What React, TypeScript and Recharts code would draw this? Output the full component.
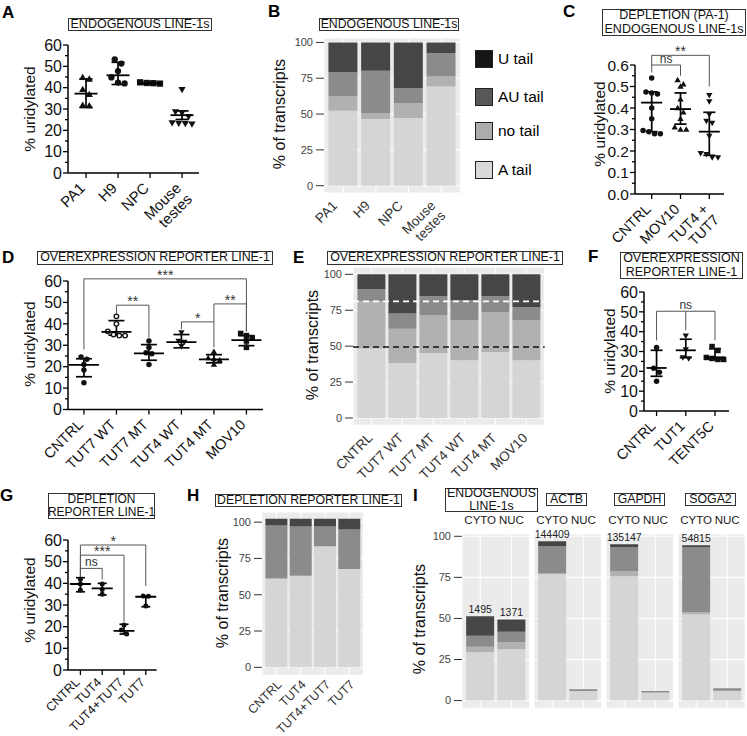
import React from 'react';
import {
  ScatterChart, Scatter, XAxis, YAxis, ErrorBar, ReferenceLine,
  BarChart, Bar, CartesianGrid, LabelList,
} from 'recharts';

const FONT = '"Liberation Sans", Arial, Helvetica, sans-serif';

// ================= DATA =================
// Panel A – endogenous LINE-1s, % uridylated
const aCategories = ['PA1', 'H9', 'NPC', 'Mouse\ntestes'];
const aPA1 = [44.8, 44.0, 39.1, 36.8, 31.8, 31.5];
const aH9 = [53.3, 51.3, 47.8, 44.8, 42.4, 42.0];
const aNPC = [42.5, 42.2, 41.9, 42.1];
const aTestes = [39.1, 28.7, 28.2, 26.5, 23.6, 23.3, 23.2, 23.0];
const aMean = [37.2, 45.8, 42.0, 27.1];
const aLow = [30.7, 41.5, 41.6, 25.1];
const aHigh = [44.1, 51.9, 42.5, 29.1];

// Panel B – endogenous LINE-1s, % of transcripts
const bCategories = ['PA1', 'H9', 'NPC', 'Mouse\ntestes'];
const bATail = [52.3, 46.5, 47.2, 69.3];
const bNoTail = [10.0, 4.2, 10.5, 7.0];
const bAUTail = [17.0, 29.5, 10.5, 16.3];
const bUTail = [20.7, 19.8, 31.8, 7.4];

// Panel C – depletion (PA-1)
const cCategories = ['CNTRL', 'MOV10', 'TUT4 +\nTUT7'];
const cCNTRL = [0.54, 0.475, 0.47, 0.465, 0.40, 0.35, 0.295, 0.29, 0.28, 0.28];
const cMOV10 = [0.53, 0.51, 0.50, 0.44, 0.40, 0.38, 0.35, 0.31, 0.30, 0.30];
const cTUT47 = [0.46, 0.43, 0.37, 0.34, 0.33, 0.27, 0.19, 0.185, 0.17, 0.17];
const cMean = [0.425, 0.395, 0.29];
const cLow = [0.29, 0.325, 0.18];
const cHigh = [0.475, 0.47, 0.38];

// Panel D – overexpression reporter
const dCategories = ['CNTRL', 'TUT7 WT', 'TUT7 MT', 'TUT4 WT', 'TUT4 MT', 'MOV10'];
const dCNTRL = [24.5, 23.5, 21.0, 18.5, 12.5];
const dTUT7WT = [43.5, 40.0, 36.5, 35.0, 34.5, 34.5];
const dTUT7MT = [32.0, 29.0, 26.5, 26.0, 21.0];
const dTUT4WT = [36.0, 32.0, 31.5, 29.5];
const dTUT4MT = [27.0, 24.0, 23.5, 23.0, 21.0];
const dMOV10 = [35.5, 34.5, 33.5, 32.0, 29.0];
const dMean = [20.8, 36.2, 26.2, 31.5, 23.4, 32.4];
const dLow = [15.3, 34.7, 23.0, 28.8, 21.8, 29.8];
const dHigh = [23.7, 41.5, 30.3, 35.0, 25.6, 34.5];

// Panel E – overexpression reporter, % of transcripts
const eCategories = ['CNTRL', 'TUT7 WT', 'TUT7 MT', 'TUT4 WT', 'TUT4 MT', 'MOV10'];
const eATail = [48.3, 38.3, 45.2, 40.2, 45.9, 40.2];
const eNoTail = [32.9, 23.9, 26.3, 27.8, 27.9, 27.8];
const eAUTail = [8.4, 10.5, 13.2, 13.9, 10.9, 9.2];
const eUTail = [10.4, 27.3, 15.3, 18.1, 15.3, 22.8];
const eRefLines = [81.2, 49.4];

// Panel F – overexpression reporter
const fCategories = ['CNTRL', 'TUT1', 'TENT5C'];
const fCNTRL = [32.0, 21.5, 19.5, 15.0];
const fTUT1 = [38.0, 31.0, 27.0, 26.5];
const fTENT5C = [32.5, 30.5, 27.0, 26.5, 26.0, 26.0];
const fMean = [21.7, 30.6, 27.0];
const fLow = [17.5, 26.9, 26.0];
const fHigh = [30.6, 36.2, 31.4];

// Panel G – depletion reporter
const gCategories = ['CNTRL', 'TUT4', 'TUT4+TUT7', 'TUT7'];
const gCNTRL = [41.9, 39.7, 36.9];
const gTUT4 = [39.7, 37.2, 35.0];
const gTUT47 = [20.8, 18.5, 16.6];
const gTUT7 = [34.2, 34.0, 29.5];
const gMean = [39.7, 37.7, 18.1, 33.8];
const gLow = [36.1, 34.6, 16.6, 29.2];
const gHigh = [42.6, 40.0, 21.1, 34.2];

// Panel H – depletion reporter, % of transcripts
const hCategories = ['CNTRL', 'TUT4', 'TUT4+TUT7', 'TUT7'];
const hATail = [61.2, 63.0, 83.4, 67.7];
const hNoTail = [0, 0, 0, 0];
const hAUTail = [36.5, 34.0, 13.6, 27.3];
const hUTail = [4.7, 5.4, 5.4, 7.4];

// Panel I – fractions
const iFacets = ['ENDOGENOUS\nLINE-1s', 'ACTB', 'GAPDH', 'SOGA2'];
const iFractions = ['CYTO', 'NUC'];
const iATail = [[29.4, 31.2], [76.9, 5.9], [75.7, 4.9], [52.6, 5.9]];
const iNoTail = [[3.4, 4.3], [0.8, 0], [3.1, 0], [1.1, 0]];
const iAUTail = [[6.7, 6.4], [16.2, 1.0], [14.7, 1.0], [39.8, 1.6]];
const iUTail = [[11.9, 7.5], [3.1, 0], [1.6, 0], [1.0, 0]];
const iCounts = [[1495, 1371], [144409, 6742], [135147, 6660], [54815, 4070]];

// tick labels
const pctTicks = [0, 5, 10, 15, 20, 25, 30, 35, 40, 45, 50, 55, 60];
const fracTicks = [0, 0.05, 0.1, 0.15, 0.2, 0.25, 0.3, 0.35, 0.4, 0.45, 0.5, 0.55, 0.6];
const barTicks = [0, 25, 50, 75, 100];
const tailLabels = ['U tail', 'AU tail', 'no tail', 'A tail'];

// significance brackets
type Bracket = { from: number; to: number; y: number; leftEnd: number; rightEnd: number; label: string; mid?: number; midEnd?: number };
const cBrackets: Bracket[] = [
  { from: 0, to: 1, y: 0.6, leftEnd: 0.565, rightEnd: 0.55, label: 'ns' },
  { from: 0, to: 2, y: 0.645, leftEnd: 0.6, rightEnd: 0.5, label: '**' },
];
const dBrackets: Bracket[] = [
  { from: 0, to: 5, y: 61, leftEnd: 28, rightEnd: 36.5, label: '***' },
  { from: 1, to: 2, y: 48.7, leftEnd: 44.5, rightEnd: 33.5, label: '**' },
  { from: 3, to: 4, y: 40.9, leftEnd: 37.5, rightEnd: 40.9, label: '*' },
  { from: 4, to: 5, y: 49.3, leftEnd: 29, rightEnd: 36.5, label: '**' },
];
const fBrackets: Bracket[] = [
  { from: 0, to: 2, y: 50.3, leftEnd: 35.6, rightEnd: 35.6, mid: 1, midEnd: 40.7, label: 'ns' },
];
const gBrackets: Bracket[] = [
  { from: 0, to: 3, y: 57.7, leftEnd: 43, rightEnd: 38.8, label: '*' },
  { from: 0, to: 2, y: 53, leftEnd: 43, rightEnd: 22.3, label: '***' },
  { from: 0, to: 1, y: 46.9, leftEnd: 43, rightEnd: 41.8, label: 'ns' },
];

// ================= STYLE =================
const BAR_COLORS = { A: '#d5d5d5', no: '#b1b1b1', AU: '#8b8b8b', U: '#464646' };
const LEGEND_COLORS = ['#161616', '#575757', '#acacac', '#d9d9d9'];

// ================= HELPERS =================
// Prism-like scatter: values that would overlap vertically share a row and are spread symmetrically
function swarm(values: number[], yPx: number, xPx: number, size: number): number[] {
  const d = size * 0.95;
  const step = size * 1.05;
  const order = values.map((_, i) => i).sort((a, b) => values[b] - values[a]);
  const out = new Array(values.length).fill(0);
  let row: number[] = [];
  const flush = () => {
    row.forEach((idx, j) => { out[idx] = ((j - (row.length - 1) / 2) * step) / xPx; });
    row = [];
  };
  for (const i of order) {
    if (row.length && Math.abs(values[row[0]] - values[i]) * yPx >= d) flush();
    row.push(i);
  }
  flush();
  return out;
}

function makeMarker(kind: string, size: number) {
  return (p: any) => {
    const { cx, cy } = p;
    if (cx == null || cy == null || isNaN(cx) || isNaN(cy)) return <g />;
    const r = size / 2;
    if (kind === 'open') return <circle cx={cx} cy={cy} r={r - 0.5} fill="#fff" stroke="#111" strokeWidth={1.4} />;
    if (kind === 'square') return <rect x={cx - r} y={cy - r} width={size} height={size} fill="#111" />;
    if (kind === 'tri') {
      return <polygon points={`${cx},${cy - r * 1.2} ${cx - r * 1.15},${cy + r * 0.8} ${cx + r * 1.15},${cy + r * 0.8}`} fill="#111" />;
    }
    if (kind === 'triDown') {
      return <polygon points={`${cx},${cy + r * 1.2} ${cx - r * 1.15},${cy - r * 0.8} ${cx + r * 1.15},${cy - r * 0.8}`} fill="#111" />;
    }
    return <circle cx={cx} cy={cy} r={r} fill="#111" />;
  };
}

function makeMeanLine(w: number) {
  return (p: any) => {
    const { cx, cy } = p;
    if (cx == null || cy == null) return <g />;
    return <line x1={cx - w / 2} x2={cx + w / 2} y1={cy} y2={cy} stroke="#000" strokeWidth={1.8} />;
  };
}

function PrismXTick(props: any) {
  const { x, y, payload, labels, fs, dx, dy } = props;
  const idx = Math.round(Number(payload.value));
  const lines = String(labels[idx] ?? '').split('\n');
  const ax = x + dx;
  const ay = y + dy;
  return (
    <g>
      <line x1={x} x2={x} y1={y} y2={y + 5} stroke="#000" strokeWidth={1.3} />
      <text x={ax} y={ay} transform={`rotate(-45 ${ax} ${ay})`} textAnchor="end" fontSize={fs} fontFamily={FONT} fill="#111">
        {lines.map((l: string, i: number) => (
          <tspan key={i} x={ax} dy={i === 0 ? 0 : fs * 1.05}>{l}</tspan>
        ))}
      </text>
    </g>
  );
}

function PrismYTick(props: any) {
  const { x, y, payload, major, fmt, fs } = props;
  const v = Number(payload.value);
  const isMaj = major(v);
  return (
    <g>
      <line x1={x - (isMaj ? 5 : 3)} x2={x} y1={y} y2={y} stroke="#000" strokeWidth={1.3} />
      {isMaj && (
        <text x={x - 6} y={y} dy="0.36em" textAnchor="end" fontSize={fs} fontFamily={FONT} fill="#111">{fmt(v)}</text>
      )}
    </g>
  );
}

function RotTick(props: any) {
  const { x, y, payload, fs, dx, dy } = props;
  const lines = String(payload.value).split('\n');
  const ax = x + dx;
  const ay = y + dy;
  return (
    <text x={ax} y={ay} transform={`rotate(-45 ${ax} ${ay})`} textAnchor="end" fontSize={fs} fontFamily={FONT} fill="#333">
      {lines.map((l: string, i: number) => (
        <tspan key={i} x={ax} dy={i === 0 ? 0 : fs * 1.05}>{l}</tspan>
      ))}
    </text>
  );
}

type Plot = { x0: number; x1: number; y0: number; y1: number };
type DotCfg = {
  plot: Plot;
  xDomain: [number, number];
  yDomain: [number, number];
  yTicks: number[];
  major: (v: number) => boolean;
  fmt: (v: number) => string;
  categories: string[];
  series: number[][];
  means: number[];
  lows: number[];
  highs: number[];
  markers: string[];
  brackets: Bracket[];
  mt: number; mb: number; meanW: number; capHalf: number; size: number;
  fs: number; xfs: number; lblDx: number; lblDy: number;
};

function DotPlot({ cfg }: { cfg: DotCfg }) {
  const { plot, xDomain, yDomain } = cfg;
  const ly = 40;
  const mr = 8;
  const W = plot.x1 - plot.x0 + ly + mr;
  const H = plot.y1 - plot.y0 + cfg.mt + cfg.mb;
  const yPx = (plot.y1 - plot.y0) / (yDomain[1] - yDomain[0]);
  const xPx = (plot.x1 - plot.x0) / (xDomain[1] - xDomain[0]);
  const summary = cfg.means.map((m, i) => ({ x: i, y: m, err: [m - cfg.lows[i], cfg.highs[i] - m] }));
  const bStroke = '#555';
  const bracketEls: React.ReactNode[] = [];
  cfg.brackets.forEach((b, bi) => {
    const isStar = b.label.indexOf('*') >= 0;
    bracketEls.push(
      <ReferenceLine key={`h${bi}`} segment={[{ x: b.from, y: b.y }, { x: b.to, y: b.y }]} stroke={bStroke} strokeWidth={1} ifOverflow="visible"
        label={{ value: b.label, position: 'top', fill: '#333', fontSize: isStar ? 14 : 12, offset: isStar ? -1 : 2, fontFamily: FONT }} />,
    );
    bracketEls.push(
      <ReferenceLine key={`l${bi}`} segment={[{ x: b.from, y: b.y }, { x: b.from, y: b.leftEnd }]} stroke={bStroke} strokeWidth={1} ifOverflow="visible" />,
    );
    bracketEls.push(
      <ReferenceLine key={`r${bi}`} segment={[{ x: b.to, y: b.y }, { x: b.to, y: b.rightEnd }]} stroke={bStroke} strokeWidth={1} ifOverflow="visible" />,
    );
    if (b.mid != null && b.midEnd != null) {
      bracketEls.push(
        <ReferenceLine key={`m${bi}`} segment={[{ x: b.mid, y: b.y }, { x: b.mid, y: b.midEnd }]} stroke={bStroke} strokeWidth={1} ifOverflow="visible" />,
      );
    }
  });
  return (
    <div style={{ position: 'absolute', left: plot.x0 - ly, top: plot.y0 - cfg.mt }}>
      <ScatterChart width={W} height={H} margin={{ top: cfg.mt, right: mr, bottom: 0, left: 0 }}>
        <XAxis
          type="number" dataKey="x" domain={xDomain} allowDataOverflow
          ticks={cfg.categories.map((_, i) => i)} interval={0} height={cfg.mb}
          tickLine={false} tickSize={0} tickMargin={0}
          axisLine={{ stroke: '#000', strokeWidth: 1.5 }}
          tick={(p: any) => <PrismXTick {...p} labels={cfg.categories} fs={cfg.xfs} dx={cfg.lblDx} dy={cfg.lblDy} />}
        />
        <YAxis
          type="number" dataKey="y" domain={yDomain} allowDataOverflow
          ticks={cfg.yTicks} interval={0} width={ly}
          tickLine={false} tickSize={0} tickMargin={0}
          axisLine={{ stroke: '#000', strokeWidth: 1.5 }}
          tick={(p: any) => <PrismYTick {...p} major={cfg.major} fmt={cfg.fmt} fs={cfg.fs} />}
        />
        {bracketEls}
        {cfg.series.map((vals, gi) => {
          const offs = swarm(vals, yPx, xPx, cfg.size);
          const pts = vals.map((v, k) => ({ x: gi + offs[k], y: v }));
          return <Scatter key={gi} data={pts} shape={makeMarker(cfg.markers[gi], cfg.size)} isAnimationActive={false} />;
        })}
        <Scatter data={summary} shape={makeMeanLine(cfg.meanW)} isAnimationActive={false}>
          <ErrorBar dataKey="err" direction="y" width={cfg.capHalf} stroke="#000" strokeWidth={1.7} />
        </Scatter>
      </ScatterChart>
    </div>
  );
}

type BarRow = { cat: string; A: number; no: number; AU: number; U: number; n?: number };

function BarPanel(props: {
  data: BarRow[]; plot: Plot; domain: [number, number]; pad: number;
  showY?: boolean; top?: boolean; mb?: number; mt?: number;
  xfs?: number; lblDx?: number; lblDy?: number; counts?: boolean; children?: React.ReactNode;
}) {
  const { data, plot, domain, pad, showY = true, top = false, mb = 60, mt = 20, xfs = 13.5, lblDx = 0, lblDy = 13.5, counts = false } = props;
  const ly = 40;
  const pt = top ? 0 : 8; // room above the panel for the top tick label
  const W = plot.x1 - plot.x0 + (showY ? ly : 0);
  const H = plot.y1 - plot.y0 + (top ? mt : mb) + pt;
  return (
    <div style={{ position: 'absolute', left: plot.x0 - (showY ? ly : 0), top: plot.y0 - (top ? mt : 0) - pt }}>
      <BarChart width={W} height={H} data={data} margin={{ top: pt, right: 0, bottom: 0, left: 0 }} barCategoryGap="5%">
        <CartesianGrid fill="#ebebeb" stroke="#ffffff" strokeWidth={1.1} />
        <XAxis
          dataKey="cat" type="category" orientation={top ? 'top' : 'bottom'} height={top ? mt : mb}
          padding={{ left: pad, right: pad }} axisLine={false} tickLine={false} tickSize={0}
          tickMargin={top ? 10 : 0} interval={0}
          tick={top ? { fontSize: 11.5, fill: '#1a1a1a', fontFamily: FONT } : (p: any) => <RotTick {...p} fs={xfs} dx={lblDx} dy={lblDy} />}
        />
        <YAxis
          type="number" domain={domain} allowDataOverflow ticks={barTicks} interval={0} hide={!showY} width={ly}
          axisLine={false} tickLine={{ stroke: '#333' }} tickSize={8} tickMargin={3}
          tick={{ fontSize: 11, fill: '#444', fontFamily: FONT }}
        />
        <Bar dataKey="A" stackId="s" fill={BAR_COLORS.A} isAnimationActive={false} />
        <Bar dataKey="no" stackId="s" fill={BAR_COLORS.no} isAnimationActive={false} />
        <Bar dataKey="AU" stackId="s" fill={BAR_COLORS.AU} isAnimationActive={false} />
        <Bar dataKey="U" stackId="s" fill={BAR_COLORS.U} isAnimationActive={false}>
          {counts && <LabelList dataKey="n" position="top" offset={3} fontSize={10.5} fill="#222" fontFamily={FONT} />}
        </Bar>
        {props.children}
      </BarChart>
    </div>
  );
}

function Txt({ x, y, size, text, bold = false, anchor = 'start' }: { x: number; y: number; size: number; text: string; bold?: boolean; anchor?: string }) {
  const tx = anchor === 'middle' ? '-50%' : anchor === 'end' ? '-100%' : '0';
  return (
    <div style={{ position: 'absolute', left: x, top: y - 0.85 * size, fontSize: size, lineHeight: 1, fontWeight: bold ? 700 : 400, whiteSpace: 'nowrap', transform: `translateX(${tx})`, color: '#000', fontFamily: FONT }}>{text}</div>
  );
}

function VLabel({ cx, cy, size, text }: { cx: number; cy: number; size: number; text: string }) {
  return (
    <div style={{ position: 'absolute', left: cx, top: cy, width: 0, height: 0 }}>
      <div style={{ position: 'absolute', left: 0, top: 0, transform: 'translate(-50%,-50%) rotate(-90deg)', fontSize: size, lineHeight: 1, whiteSpace: 'nowrap', fontFamily: FONT, color: '#111' }}>{text}</div>
    </div>
  );
}

function TitleBox({ x, y, w, h, text, size }: { x: number; y: number; w: number; h: number; text: string; size: number }) {
  return (
    <div style={{ position: 'absolute', left: x, top: y, width: w, height: h, border: '1px solid #333', boxSizing: 'border-box', background: '#fff', display: 'flex', flexDirection: 'column', alignItems: 'center', justifyContent: 'center', fontSize: size, lineHeight: 1.08, fontFamily: FONT, color: '#111', whiteSpace: 'nowrap' }}>
      {text.split('\n').map((l, i) => <div key={i}>{l}</div>)}
    </div>
  );
}

const isPctMajor = (v: number) => Math.round(v) % 10 === 0;
const pctFmt = (v: number) => String(Math.round(v));
const isFracMajor = (v: number) => Math.round(v * 100) % 10 === 0;
const fracFmt = (v: number) => v.toFixed(1);

export default function App() {
  const cfgA: DotCfg = {
    plot: { x0: 68, x1: 199, y0: 45, y1: 173 }, xDomain: [-0.5625, 3.53], yDomain: [0, 60],
    yTicks: pctTicks, major: isPctMajor, fmt: pctFmt, categories: aCategories,
    series: [aPA1, aH9, aNPC, aTestes], means: aMean, lows: aLow, highs: aHigh,
    markers: ['tri', 'circle', 'square', 'triDown'], brackets: [],
    mt: 10, mb: 62, meanW: 23, capHalf: 6.5, size: 6.3, fs: 16, xfs: 15, lblDx: 0, lblDy: 16,
  };
  const cfgC: DotCfg = {
    plot: { x0: 635, x1: 724, y0: 64.5, y1: 193.5 }, xDomain: [-0.58, 2.51], yDomain: [0, 0.6],
    yTicks: fracTicks, major: isFracMajor, fmt: fracFmt, categories: cCategories,
    series: [cCNTRL, cMOV10, cTUT47], means: cMean, lows: cLow, highs: cHigh,
    markers: ['circle', 'tri', 'triDown'], brackets: cBrackets,
    mt: 26, mb: 60, meanW: 21, capHalf: 6, size: 5.5, fs: 15.5, xfs: 14.5, lblDx: 0, lblDy: 16,
  };
  const cfgD: DotCfg = {
    plot: { x0: 68, x1: 263, y0: 280.5, y1: 409 }, xDomain: [-0.49, 5.51], yDomain: [0, 60],
    yTicks: pctTicks, major: isPctMajor, fmt: pctFmt, categories: dCategories,
    series: [dCNTRL, dTUT7WT, dTUT7MT, dTUT4WT, dTUT4MT, dMOV10], means: dMean, lows: dLow, highs: dHigh,
    markers: ['circle', 'open', 'circle', 'triDown', 'tri', 'square'], brackets: dBrackets,
    mt: 18, mb: 62, meanW: 30, capHalf: 8, size: 5.5, fs: 16, xfs: 14.5, lblDx: 0, lblDy: 16,
  };
  const cfgF: DotCfg = {
    plot: { x0: 644, x1: 729, y0: 291.7, y1: 410.7 }, xDomain: [-0.43, 2.48], yDomain: [0, 60],
    yTicks: pctTicks, major: isPctMajor, fmt: pctFmt, categories: fCategories,
    series: [fCNTRL, fTUT1, fTENT5C], means: fMean, lows: fLow, highs: fHigh,
    markers: ['circle', 'triDown', 'square'], brackets: fBrackets,
    mt: 10, mb: 62, meanW: 20, capHalf: 6, size: 5.5, fs: 16, xfs: 14.5, lblDx: 0, lblDy: 16,
  };
  const cfgG: DotCfg = {
    plot: { x0: 68.3, x1: 157, y0: 540, y1: 670 }, xDomain: [-0.57, 3.5], yDomain: [0, 60],
    yTicks: pctTicks, major: isPctMajor, fmt: pctFmt, categories: gCategories,
    series: [gCNTRL, gTUT4, gTUT47, gTUT7], means: gMean, lows: gLow, highs: gHigh,
    markers: ['circle', 'circle', 'circle', 'circle'], brackets: gBrackets,
    mt: 10, mb: 66, meanW: 21, capHalf: 4.5, size: 5, fs: 16, xfs: 12.5, lblDx: 0, lblDy: 13,
  };

  const bData: BarRow[] = bCategories.map((cat, i) => ({ cat, A: bATail[i], no: bNoTail[i], AU: bAUTail[i], U: bUTail[i] }));
  const eData: BarRow[] = eCategories.map((cat, i) => ({ cat, A: eATail[i], no: eNoTail[i], AU: eAUTail[i], U: eUTail[i] }));
  const hData: BarRow[] = hCategories.map((cat, i) => ({ cat, A: hATail[i], no: hNoTail[i], AU: hAUTail[i], U: hUTail[i] }));
  const iData: BarRow[][] = iFacets.map((_, fi) => iFractions.map((cat, j) => ({
    cat, A: iATail[fi][j], no: iNoTail[fi][j], AU: iAUTail[fi][j], U: iUTail[fi][j], n: iCounts[fi][j],
  })));
  const iX: [number, number][] = [[462.3, 530], [533.8, 601.3], [606, 673.5], [678.3, 745.5]];
  const iBoxes = [
    { x: 445, y: 488, w: 93, h: 24 },
    { x: 546, y: 493, w: 41, h: 13 },
    { x: 614, y: 493, w: 51, h: 13 },
    { x: 685, y: 493, w: 51, h: 13 },
  ];
  const legendTops = [49.5, 87.5, 122, 161];

  return (
    <div style={{ position: 'absolute', left: 0, top: 0, width: 747, height: 736, background: '#fff', overflow: 'hidden', fontFamily: FONT }}>
      <DotPlot cfg={cfgA} />
      <DotPlot cfg={cfgC} />
      <DotPlot cfg={cfgD} />
      <DotPlot cfg={cfgF} />
      <DotPlot cfg={cfgG} />

      <BarPanel data={bData} plot={{ x0: 324.3, x1: 460.7, y0: 38.3, y1: 193.3 }} domain={[-5.1, 103.1]} pad={2.8} lblDx={-5} />
      <BarPanel data={eData} plot={{ x0: 353.3, x1: 545, y0: 266.7, y1: 425 }} domain={[-5.1, 105.1]} pad={2.85} lblDx={2}>
        <ReferenceLine y={eRefLines[0]} stroke="#ffffff" strokeWidth={1.6} strokeDasharray="6 4" />
        <ReferenceLine y={eRefLines[1]} stroke="#111111" strokeWidth={1.4} strokeDasharray="6 4" />
      </BarPanel>
      <BarPanel data={hData} plot={{ x0: 261.7, x1: 363.3, y0: 511.7, y1: 675 }} domain={[-5.5, 107]} pad={2.2} lblDx={6} lblDy={10} xfs={12.5} mb={61} />
      {iData.map((d, fi) => (
        <BarPanel key={fi} data={d} plot={{ x0: iX[fi][0], x1: iX[fi][1], y0: 534, y1: 708.3 }} domain={[-4.7, 101.4]} pad={2.6}
          showY={fi === 0} top mt={20} counts />
      ))}

      {/* legend for B */}
      {tailLabels.map((t, i) => (
        <React.Fragment key={t}>
          <div style={{ position: 'absolute', left: 475, top: legendTops[i], width: 18, height: 18, background: LEGEND_COLORS[i], border: '1.5px solid #222', boxSizing: 'border-box' }} />
          <Txt x={498} y={legendTops[i] + 14.5} size={15.5} text={t} />
        </React.Fragment>
      ))}

      {/* titles */}
      <TitleBox x={68} y={18} w={144} h={13} text="ENDOGENOUS LINE-1s" size={12.5} />
      <TitleBox x={319} y={18} w={140} h={13} text="ENDOGENOUS LINE-1s" size={12.3} />
      <TitleBox x={602} y={9} w={144} h={27} text={'DEPLETION (PA-1)\nENDOGENOUS LINE-1s'} size={12.5} />
      <TitleBox x={37} y={251} w={236} h={14} text="OVEREXPRESSION REPORTER LINE-1" size={12.4} />
      <TitleBox x={327} y={251} w={236} h={14} text="OVEREXPRESSION REPORTER LINE-1" size={12.4} />
      <TitleBox x={620} y={252} w={123} h={27} text={'OVEREXPRESSION\nREPORTER LINE-1'} size={12.5} />
      <TitleBox x={48} y={493} w={107} h={26} text={'DEPLETION\nREPORTER LINE-1'} size={12} />
      <TitleBox x={215} y={494} w={187} h={13} text="DEPLETION REPORTER LINE-1" size={12.3} />
      {iFacets.map((f, fi) => (
        <TitleBox key={f} x={iBoxes[fi].x} y={iBoxes[fi].y} w={iBoxes[fi].w} h={iBoxes[fi].h} text={f} size={12.3} />
      ))}

      {/* y axis titles */}
      <VLabel cx={30} cy={108.5} size={15.5} text="% uridylated" />
      <VLabel cx={599.5} cy={124} size={15.5} text="% uridylated" />
      <VLabel cx={30} cy={344} size={15.5} text="% uridylated" />
      <VLabel cx={610} cy={350.5} size={15.5} text="% uridylated" />
      <VLabel cx={30} cy={600} size={15.5} text="% uridylated" />
      <VLabel cx={280} cy={114} size={16} text="% of transcripts" />
      <VLabel cx={313} cy={345} size={16} text="% of transcripts" />
      <VLabel cx={223} cy={593} size={16} text="% of transcripts" />
      <VLabel cx={420} cy={619} size={16} text="% of transcripts" />

      {/* panel letters */}
      <Txt x={2} y={18} size={17} bold text="A" />
      <Txt x={268} y={17} size={17} bold text="B" />
      <Txt x={563} y={17} size={17} bold text="C" />
      <Txt x={2} y={263} size={17} bold text="D" />
      <Txt x={293} y={263} size={17} bold text="E" />
      <Txt x={588} y={262} size={17} bold text="F" />
      <Txt x={0} y={501} size={17} bold text="G" />
      <Txt x={187} y={501} size={17} bold text="H" />
      <Txt x={413} y={501} size={17} bold text="I" />
    </div>
  );
}
